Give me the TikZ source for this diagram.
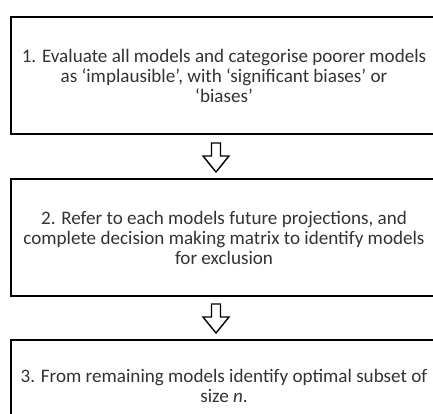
\documentclass[tikz,border=0pt]{standalone}
\usepackage{fontspec}
\setmainfont{Carlito}
\usetikzlibrary{positioning}

\tikzset{
	stepbox/.style={draw, line width=2.6pt, minimum width=426pt, align=center,
		font=\fontsize{19.1pt}{20pt}\selectfont, text=black!80},
	arrowline/.style={draw, line width=1.4pt, fill=white, line join=miter}
}

\begin{document}
\begin{tikzpicture}[x=1pt,y=-1pt]

		\useasboundingbox (0,0) rectangle (433,414);
		\fill[white] (0,0) rectangle (433,414);
		\clip (0,0) rectangle (433,414);

		\node[stepbox, minimum height=117pt] (b1) at (224,75.5) {1. Evaluate all models and categorise poorer models\\
			as ‘implausible’, with ‘significant biases’ or\\
			‘biases’};
		\node[stepbox, minimum height=117pt] (b2) at (224,237.5) {2. Refer to each models future projections, and\\
			complete decision making matrix to identify models\\
			for exclusion};
		\node[stepbox, minimum height=92pt] (b3) at (224,386) {3. From remaining models identify optimal subset of\\
			size \textit{n}.};

		\coordinate (a1) at (216,143);
		\coordinate (a2) at (216,304);

		\draw[arrowline] (a1) ++(-4.5,0) -- ++(9,0) -- ++(0,13) -- ++(8.5,0) -- ++(-13,16) -- ++(-13,-16) -- ++(8.5,0) -- cycle;
		\draw[arrowline] (a2) ++(-4.5,0) -- ++(9,0) -- ++(0,13) -- ++(8.5,0) -- ++(-13,16) -- ++(-13,-16) -- ++(8.5,0) -- cycle;

	\end{tikzpicture}
\end{document}
